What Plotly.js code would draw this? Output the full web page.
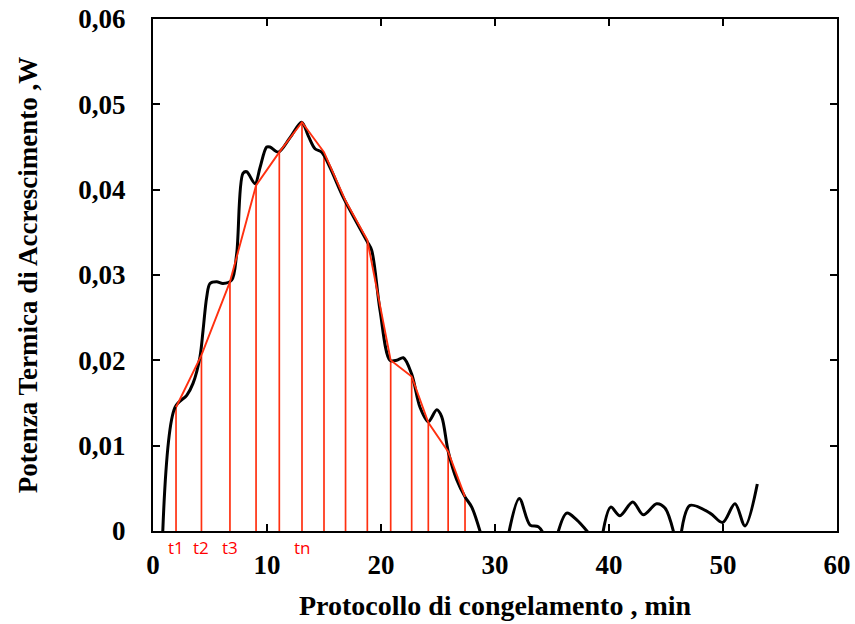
<!DOCTYPE html>
<html>
<head>
<meta charset="utf-8">
<script src="https://cdn.plot.ly/plotly-3.0.1.min.js"></script>
<style>html,body{margin:0;padding:0;background:#fff;}#chart{width:855px;height:624px;}</style>
</head>
<body>
<div id="chart"></div>
<script>
// Black measured curve (segments separated by null)
const curveX = [0.85, 1.93, 2.96, 3.51, 4.12, 4.39, 4.71, 5.00, 5.59, 6.14, 6.90, 7.34, 7.89, 8.22, 8.95, 9.39, 9.97, 10.26, 10.99, 12.02, 13.04, 13.62, 14.21, 14.80, 15.53, 16.69, 18.75, 19.18, 19.91, 20.79, 21.38, 21.96, 22.69, 23.42, 24.15, 24.89, 25.32, 25.90, 26.64, 27.37, 27.96, 28.75,
  null, 31.2, 32.13, 33.07, 33.80, 34.25,
  null, 35.5, 36.29, 37.17, 38.25,
  null, 39.45, 40.15, 40.96, 42.08, 43.01, 44.18, 44.91, 45.7,
  null, 46.33, 47.11, 48.86, 49.97, 51.05, 51.93, 53.01];
const curveY = [-0.0003, 0.0145, 0.0159, 0.0173, 0.0204, 0.0235, 0.0274, 0.0290, 0.0292, 0.0290, 0.0294, 0.0325, 0.0419, 0.0421, 0.0407, 0.0426, 0.0450, 0.0450, 0.0444, 0.0461, 0.0479, 0.0463, 0.0448, 0.0444, 0.0426, 0.0391, 0.0340, 0.0329, 0.0259, 0.0200, 0.0200, 0.0203, 0.0184, 0.0145, 0.0128, 0.0142, 0.0134, 0.0093, 0.0060, 0.0040, 0.0028, -0.0003,
  null, -0.0003, 0.0038, 0.0007, 0.0005, -0.0003,
  null, -0.0003, 0.0021, 0.0013, -0.0003,
  null, -0.0003, 0.0028, 0.0018, 0.0034, 0.0019, 0.0032, 0.0027, -0.0003,
  null, -0.0003, 0.0030, 0.0021, 0.0010, 0.0032, 0.0006, 0.0055];

// Red piecewise-linear approximation vertices
const redX = [2.02, 4.25, 6.75, 9.04, 11.08, 13.07, 15.00, 16.89, 18.80, 20.85, 22.69, 24.15, 25.89, 27.37];
const redY = [0.0145, 0.0206, 0.0292, 0.0405, 0.0444, 0.0479, 0.0444, 0.0387, 0.0341, 0.0200, 0.0181, 0.0127, 0.0093, 0.0040];

// Labels under selected vertical lines
const tLabels = ['t1', 't2', 't3', 'tn'];
const tIndex = [0, 1, 2, 5];

const xTicks = [0, 10, 20, 30, 40, 50, 60];
const yTicks = [0, 0.01, 0.02, 0.03, 0.04, 0.05, 0.06];
const yTickText = ['0', '0,01', '0,02', '0,03', '0,04', '0,05', '0,06'];

const RED = 'rgb(255,48,16)';

// vertical lines from axis to each vertex
const vx = [], vy = [];
redX.forEach((x, i) => { vx.push(x, x, null); vy.push(0, redY[i], null); });

const traces = [
  {x: vx, y: vy, mode: 'lines', line: {color: RED, width: 1.7}, hoverinfo: 'skip', showlegend: false},
  {x: curveX, y: curveY, mode: 'lines', line: {color: '#000', width: 3, shape: 'spline', smoothing: 0.9}, connectgaps: false, showlegend: false},
  {x: redX, y: redY, mode: 'lines', line: {color: RED, width: 1.9}, showlegend: false}
];

const annotations = tIndex.map((idx, k) => ({
  x: redX[idx], y: 0, xref: 'x', yref: 'y', text: tLabels[k], showarrow: false,
  yanchor: 'top', xanchor: 'center', yshift: -3,
  font: {family: 'Open Sans, sans-serif', size: 17, color: '#ff0000'}
}));

const tickFont = {family: 'Liberation Serif, Times New Roman, serif', size: 27, color: '#000', weight: 'bold'};
const titleFont = {family: 'Liberation Serif, Times New Roman, serif', size: 28, color: '#000', weight: 'bold'};

const layout = {
  width: 855, height: 624,
  margin: {l: 153, r: 18, t: 19, b: 93},
  paper_bgcolor: '#fff', plot_bgcolor: '#fff',
  showlegend: false,
  xaxis: {
    range: [0, 60], tickvals: xTicks, ticktext: xTicks.map(String),
    ticks: 'inside', ticklen: 7, tickwidth: 2, tickcolor: '#000',
    showline: true, linecolor: '#000', linewidth: 2, mirror: 'ticks',
    showgrid: false, zeroline: false,
    tickfont: tickFont, ticklabelstandoff: 9,
    title: {text: 'Protocollo di congelamento , min', font: titleFont, standoff: 16}
  },
  yaxis: {
    range: [0, 0.06], tickvals: yTicks, ticktext: yTickText,
    ticks: 'inside', ticklen: 7, tickwidth: 2, tickcolor: '#000',
    showline: true, linecolor: '#000', linewidth: 2, mirror: 'ticks',
    showgrid: false, zeroline: false,
    tickfont: tickFont, ticklabelstandoff: 20,
    title: {text: 'Potenza Termica di Accrescimento ,W', font: {family: 'Liberation Serif, Times New Roman, serif', size: 27, color: '#000', weight: 'bold'}, standoff: 33}
  },
  annotations: annotations
};

Plotly.newPlot('chart', traces, layout, {displayModeBar: false, staticPlot: true});
</script>
</body>
</html>
